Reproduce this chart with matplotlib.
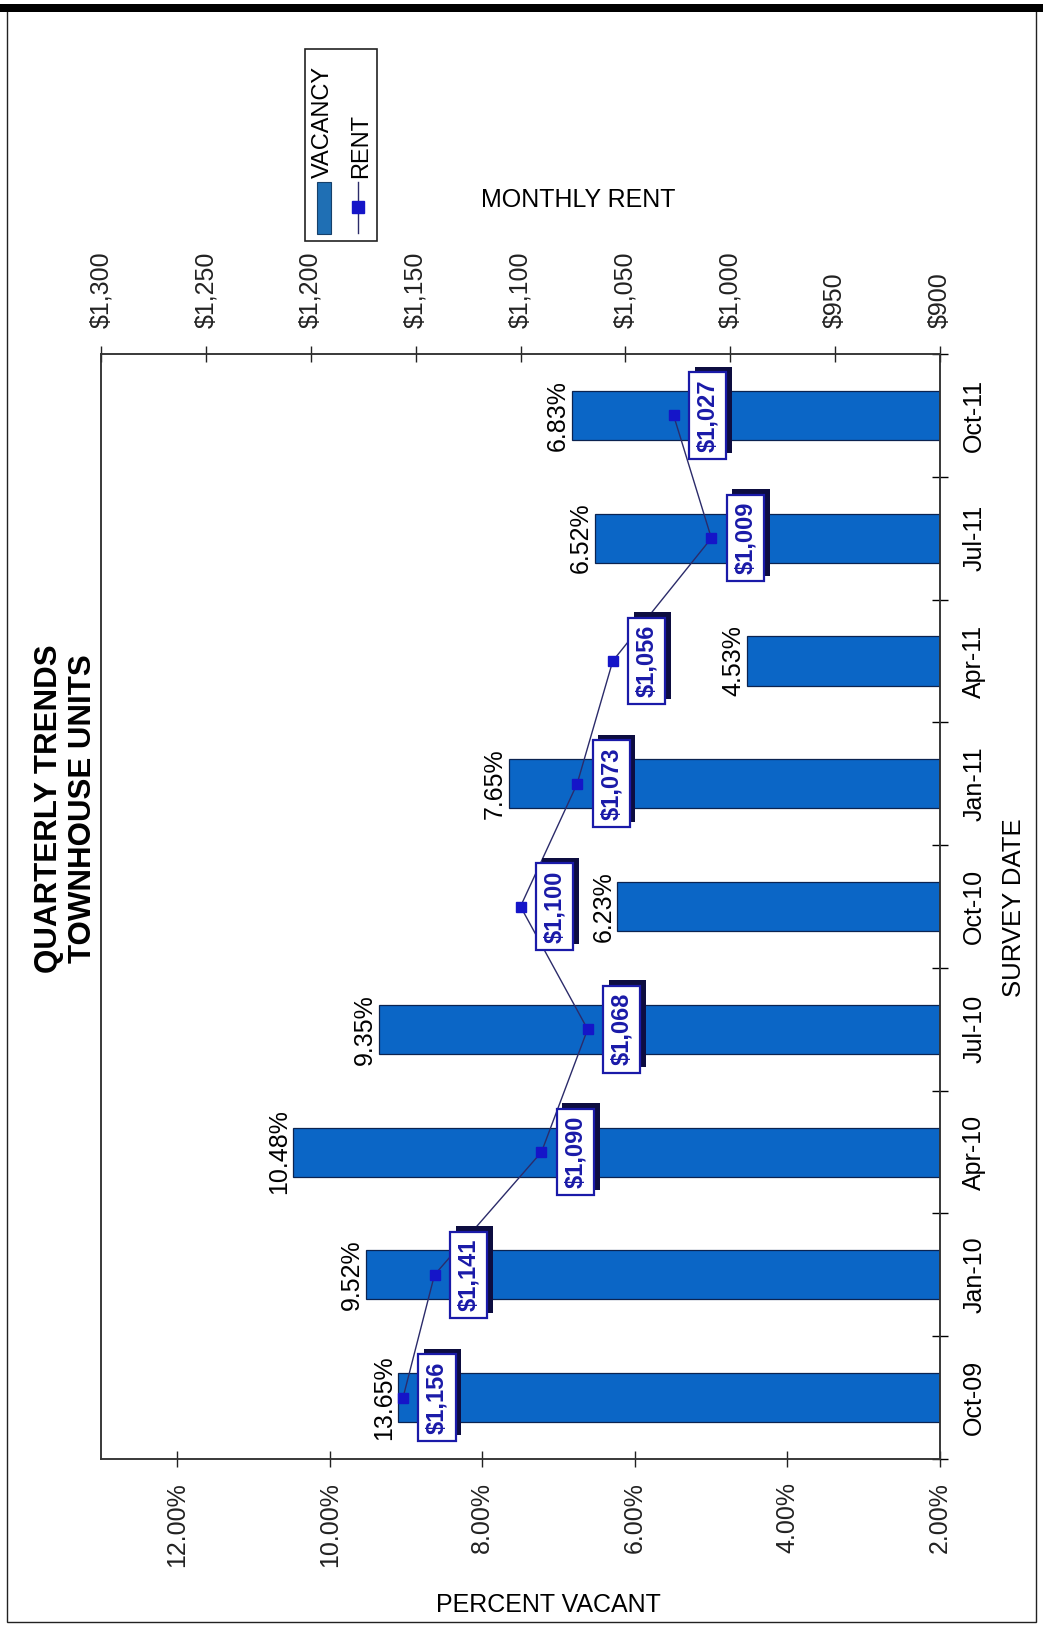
import numpy as np
import matplotlib
matplotlib.use("Agg")
import matplotlib.pyplot as plt
import matplotlib.patheffects as pe
from matplotlib.patches import Rectangle
from matplotlib.lines import Line2D

plt.rcParams['font.family'] = ['Liberation Sans', 'DejaVu Sans']

# data (Oct-09 first, drawn at the bottom)
dates = ['Oct-09', 'Jan-10', 'Apr-10', 'Jul-10', 'Oct-10',
         'Jan-11', 'Apr-11', 'Jul-11', 'Oct-11']
vacancy_bar = [9.1, 9.52, 10.48, 9.35, 6.23, 7.65, 4.53, 6.52, 6.83]
vacancy_lbl = ['13.65%', '9.52%', '10.48%', '9.35%', '6.23%',
               '7.65%', '4.53%', '6.52%', '6.83%']
rent = [1156, 1141, 1090, 1068, 1100, 1073, 1056, 1009, 1027]
vac_ticks = [2, 4, 6, 8, 10, 12]
rent_ticks = [900, 950, 1000, 1050, 1100, 1150, 1200, 1250, 1300]

W, H = 1043, 1630
fig = plt.figure(figsize=(W / 100, H / 100), dpi=100)


def fp(x, y):
    # pixel (top-left origin) -> figure fraction
    return x / W, 1 - y / H


ax = fig.add_axes([101 / W, 1 - 1459 / H, (940 - 101) / W, (1459 - 354) / H])
y = np.arange(len(dates))

ax.barh(y, vacancy_bar, left=0, height=0.4, color='#0b66c6',
        edgecolor='#0b2350', linewidth=0.9, zorder=2)
ax.set_xlim(13, 2)
ax.set_ylim(-0.5, len(dates) - 0.5)
ax.set_xticks(vac_ticks)
ax.set_xticklabels(['%.2f%%' % v for v in vac_ticks], rotation=90)
ax.tick_params(axis='x', direction='inout', length=11, width=1,
               labelsize=18, pad=11, colors='#222222')

ax.set_yticks(np.arange(-0.5, len(dates), 1))
ax.set_yticklabels([])
ax.set_yticks(y, minor=True)
ax.set_yticklabels(dates, minor=True, rotation=90, va='center')
ax.tick_params(axis='y', which='both', left=False, right=True,
               labelleft=False, labelright=True)
ax.tick_params(axis='y', which='major', direction='inout', length=12, width=1)
ax.tick_params(axis='y', which='minor', length=0, labelsize=18, pad=16)

for s in ax.spines.values():
    s.set_color('#333333')
    s.set_linewidth(1.1)

for i, (v, t) in enumerate(zip(vacancy_bar, vacancy_lbl)):
    ax.annotate(t, (v, i), xytext=(-1.5, 0), textcoords='offset points',
                ha='right', va='center', rotation=90, fontsize=18, zorder=3)

# rent on the top axis
ax2 = ax.twiny()
ax2.set_xlim(1300, 900)
ax2.set_xticks(rent_ticks)
ax2.set_xticklabels(['${:,}'.format(v) for v in rent_ticks], rotation=90)
ax2.tick_params(axis='x', direction='inout', length=11, width=1,
                labelsize=18, pad=13, colors='#222222')
for s in ax2.spines.values():
    s.set_color('#333333')
    s.set_linewidth(1.1)

ax2.plot(rent, y, color='#2b2b6a', lw=1, marker='s', markersize=6.5,
         markerfacecolor='#1515c8', markeredgecolor='#1515c8', zorder=3)

for i, r in enumerate(rent):
    t = ax2.annotate('${:,}'.format(r), (r, i), xytext=(24.5, 0),
                     textcoords='offset points', ha='center', va='center',
                     rotation=90, fontsize=17, fontweight='bold',
                     color='#1a1aa8', zorder=5,
                     bbox=dict(boxstyle='square,pad=0.3', fc='white',
                               ec='#1a1aa8', lw=1.6))
    t.get_bbox_patch().set_path_effects([
        pe.SimplePatchShadow(offset=(4, 4), shadow_rgbFace='#0d0d40', alpha=1),
        pe.Normal()])

# titles and axis names
fig.text(*fp(66, 809), 'QUARTERLY TRENDS\nTOWNHOUSE UNITS', rotation=90,
         ha='center', va='center', multialignment='center',
         fontsize=22.5, fontweight='bold')
fig.text(*fp(578, 200), 'MONTHLY RENT', ha='center', va='center', fontsize=18)
fig.text(*fp(548, 1605), 'PERCENT VACANT', ha='center', va='center', fontsize=18)
fig.text(*fp(1014, 908), 'SURVEY DATE', rotation=90, ha='center',
         va='center', fontsize=18.5)

# legend, drawn by hand because it is rotated
x0, y0 = fp(305, 241)
x1, y1 = fp(377, 49)
fig.add_artist(Rectangle((x0, y0), x1 - x0, y1 - y0, transform=fig.transFigure,
                         fill=False, ec='#222222', lw=1.2))
px0, py0 = fp(317, 234)
px1, py1 = fp(331, 182)
fig.add_artist(Rectangle((px0, py0), px1 - px0, py1 - py0,
                         transform=fig.transFigure, fc='#1f6fb4',
                         ec='#16406a', lw=0.8))
lx, ly0 = fp(358, 233)
_, ly1 = fp(358, 182)
fig.add_artist(Line2D([lx, lx], [ly0, ly1], transform=fig.transFigure,
                      color='#2b2b6a', lw=1))
_, my = fp(358, 207)
fig.add_artist(Line2D([lx], [my], transform=fig.transFigure, marker='s',
                      markersize=8, color='#1515c8'))
fig.text(*fp(323, 178), 'VACANCY', rotation=90, ha='center', va='bottom',
         fontsize=17)
fig.text(*fp(361, 178), 'RENT', rotation=90, ha='center', va='bottom',
         fontsize=17)

# page frame
fig.add_artist(Rectangle(fp(7, 1622), (1036 - 7) / W, (1622 - 10) / H,
                         transform=fig.transFigure, fill=False,
                         ec='#222222', lw=1))
fig.add_artist(Rectangle(fp(0, 12), 1, 8 / H, transform=fig.transFigure,
                         fc='black', ec='none'))

fig.savefig('out.png', dpi=100, facecolor='white')
